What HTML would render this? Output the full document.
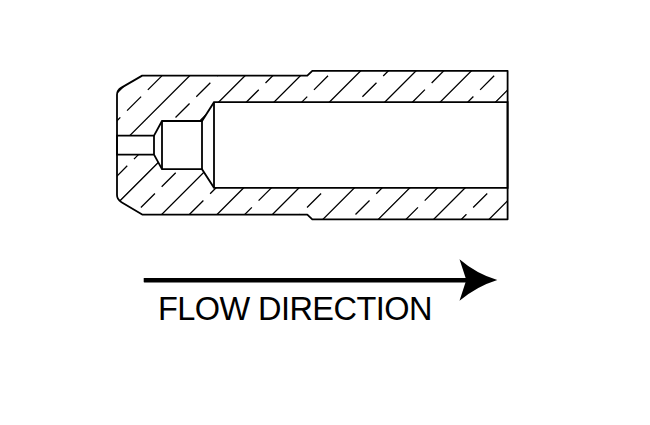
<!DOCTYPE html>
<html><head><meta charset="utf-8"><style>
html,body{margin:0;padding:0;background:#fff;width:650px;height:425px;overflow:hidden}
svg{position:absolute;left:0;top:0}
.t{position:absolute;left:0;top:0;font-family:"Liberation Sans",sans-serif;font-size:32.5px;letter-spacing:-0.55px;color:#000;white-space:nowrap;line-height:1}
</style></head><body>
<svg width="650" height="425" viewBox="0 0 650 425">
<defs><clipPath id="c"><path clip-rule="evenodd" d="M142.2 75.65 L307.3 75.65 L312.3 70.8 L507.6 70.8 L507.6 219.3 L312.3 219.3 L307.3 214.6 L142.2 214.6 L121.5 202.29999999999998 Q117 199.6 117 195.1 L117 94.7 Q117 90.2 121.5 87.60000000000001 Z M117 135.6 L154 135.6 L162 121 L202 121 L214 102.2 L507.6 102.2 L507.6 187.8 L214 187.8 L202 169.2 L162 169.2 L154 154.6 L117 154.6 Z"/></clipPath></defs>
<path d="M100.00 54.65L520.00 -365.35M100.00 110.02L520.00 -309.98M100.00 165.40L520.00 -254.60M100.00 220.77L520.00 -199.23M100.00 276.15L520.00 -143.85M100.00 331.52L520.00 -88.48M100.00 386.90L520.00 -33.10M100.00 442.27L520.00 22.27M100.00 497.65L520.00 77.65M100.00 553.02L520.00 133.02M100.00 608.40L520.00 188.40M99.37 82.97L113.42 68.92M120.14 62.20L134.19 48.15M140.91 41.43L154.96 27.38M161.68 20.66L175.73 6.61M182.45 -0.11L196.50 -14.16M203.22 -20.88L217.27 -34.93M223.99 -41.65L238.04 -55.70M244.76 -62.42L258.81 -76.47M265.53 -83.19L279.58 -97.24M286.30 -103.96L300.35 -118.01M307.07 -124.73L321.12 -138.78M327.84 -145.50L341.89 -159.55M348.61 -166.27L362.66 -180.32M369.38 -187.04L383.43 -201.09M390.15 -207.81L404.20 -221.86M410.92 -228.58L424.97 -242.63M431.69 -249.35L445.74 -263.40M452.46 -270.12L466.51 -284.17M473.23 -290.89L487.28 -304.94M494.00 -311.66L508.05 -325.71M514.77 -332.43L528.82 -346.48M106.29 131.43L120.34 117.38M127.06 110.66L141.11 96.61M147.83 89.89L161.88 75.84M168.60 69.12L182.65 55.07M189.37 48.35L203.42 34.30M210.14 27.58L224.19 13.53M230.91 6.81L244.96 -7.24M251.68 -13.96L265.73 -28.01M272.45 -34.73L286.50 -48.78M293.22 -55.50L307.27 -69.55M313.99 -76.27L328.04 -90.32M334.76 -97.04L348.81 -111.09M355.53 -117.81L369.58 -131.86M376.30 -138.58L390.35 -152.63M397.07 -159.35L411.12 -173.40M417.84 -180.12L431.89 -194.17M438.61 -200.89L452.66 -214.94M459.38 -221.66L473.43 -235.71M480.15 -242.43L494.20 -256.48M500.92 -263.20L514.97 -277.25M92.43 200.65L106.48 186.60M113.20 179.88L127.25 165.83M133.97 159.11L148.02 145.06M154.74 138.34L168.79 124.29M175.51 117.57L189.56 103.52M196.28 96.80L210.33 82.75M217.05 76.03L231.10 61.98M237.82 55.26L251.87 41.21M258.59 34.49L272.64 20.44M279.36 13.72L293.41 -0.33M300.13 -7.05L314.18 -21.10M320.90 -27.82L334.95 -41.87M341.67 -48.59L355.72 -62.64M362.44 -69.36L376.49 -83.41M383.21 -90.13L397.26 -104.18M403.98 -110.90L418.03 -124.95M424.75 -131.67L438.80 -145.72M445.52 -152.44L459.57 -166.49M466.29 -173.21L480.34 -187.26M487.06 -193.98L501.11 -208.03M507.83 -214.75L521.88 -228.80M99.35 249.11L113.40 235.06M120.12 228.34L134.17 214.29M140.89 207.57L154.94 193.52M161.66 186.80L175.71 172.75M182.43 166.03L196.48 151.98M203.20 145.26L217.25 131.21M223.97 124.49L238.02 110.44M244.74 103.72L258.79 89.67M265.51 82.95L279.56 68.90M286.28 62.18L300.33 48.13M307.05 41.41L321.10 27.36M327.82 20.64L341.87 6.59M348.59 -0.13L362.64 -14.18M369.36 -20.90L383.41 -34.95M390.13 -41.67L404.18 -55.72M410.90 -62.44L424.95 -76.49M431.67 -83.21L445.72 -97.26M452.44 -103.98L466.49 -118.03M473.21 -124.75L487.26 -138.80M493.98 -145.52L508.03 -159.57M514.75 -166.29L528.80 -180.34M106.27 297.57L120.32 283.52M127.04 276.80L141.09 262.75M147.81 256.03L161.86 241.98M168.58 235.26L182.63 221.21M189.35 214.49L203.40 200.44M210.12 193.72L224.17 179.67M230.89 172.95L244.94 158.90M251.66 152.18L265.71 138.13M272.43 131.41L286.48 117.36M293.20 110.64L307.25 96.59M313.97 89.87L328.02 75.82M334.74 69.10L348.79 55.05M355.51 48.33L369.56 34.28M376.28 27.56L390.33 13.51M397.05 6.79L411.10 -7.26M417.82 -13.98L431.87 -28.03M438.59 -34.75L452.64 -48.80M459.36 -55.52L473.41 -69.57M480.13 -76.29L494.18 -90.34M500.90 -97.06L514.95 -111.11M92.42 366.80L106.47 352.75M113.19 346.03L127.24 331.98M133.96 325.26L148.01 311.21M154.73 304.49L168.78 290.44M175.50 283.72L189.55 269.67M196.27 262.95L210.32 248.90M217.04 242.18L231.09 228.13M237.81 221.41L251.86 207.36M258.58 200.64L272.63 186.59M279.35 179.87L293.40 165.82M300.12 159.10L314.17 145.05M320.89 138.33L334.94 124.28M341.66 117.56L355.71 103.51M362.43 96.79L376.48 82.74M383.20 76.02L397.25 61.97M403.97 55.25L418.02 41.20M424.74 34.48L438.79 20.43M445.51 13.71L459.56 -0.34M466.28 -7.06L480.33 -21.11M487.05 -27.83L501.10 -41.88M507.82 -48.60L521.87 -62.65M99.33 415.25L113.38 401.20M120.10 394.48L134.15 380.43M140.87 373.71L154.92 359.66M161.64 352.94L175.69 338.89M182.41 332.17L196.46 318.12M203.18 311.40L217.23 297.35M223.95 290.63L238.00 276.58M244.72 269.86L258.77 255.81M265.49 249.09L279.54 235.04M286.26 228.32L300.31 214.27M307.03 207.55L321.08 193.50M327.80 186.78L341.85 172.73M348.57 166.01L362.62 151.96M369.34 145.24L383.39 131.19M390.11 124.47L404.16 110.42M410.88 103.70L424.93 89.65M431.65 82.93L445.70 68.88M452.42 62.16L466.47 48.11M473.19 41.39L487.24 27.34M493.96 20.62L508.01 6.57M514.73 -0.15L528.78 -14.20M106.25 463.71L120.30 449.66M127.02 442.94L141.07 428.89M147.79 422.17L161.84 408.12M168.56 401.40L182.61 387.35M189.33 380.63L203.38 366.58M210.10 359.86L224.15 345.81M230.87 339.09L244.92 325.04M251.64 318.32L265.69 304.27M272.41 297.55L286.46 283.50M293.18 276.78L307.23 262.73M313.95 256.01L328.00 241.96M334.72 235.24L348.77 221.19M355.49 214.47L369.54 200.42M376.26 193.70L390.31 179.65M397.03 172.93L411.08 158.88M417.80 152.16L431.85 138.11M438.57 131.39L452.62 117.34M459.34 110.62L473.39 96.57M480.11 89.85L494.16 75.80M500.88 69.08L514.93 55.03M92.40 532.94L106.45 518.89M113.17 512.17L127.22 498.12M133.94 491.40L147.99 477.35M154.71 470.63L168.76 456.58M175.48 449.86L189.53 435.81M196.25 429.09L210.30 415.04M217.02 408.32L231.07 394.27M237.79 387.55L251.84 373.50M258.56 366.78L272.61 352.73M279.33 346.01L293.38 331.96M300.10 325.24L314.15 311.19M320.87 304.47L334.92 290.42M341.64 283.70L355.69 269.65M362.41 262.93L376.46 248.88M383.18 242.16L397.23 228.11M403.95 221.39L418.00 207.34M424.72 200.62L438.77 186.57M445.49 179.85L459.54 165.80M466.26 159.08L480.31 145.03M487.03 138.31L501.08 124.26M507.80 117.54L521.85 103.49M99.32 581.40L113.37 567.35M120.09 560.63L134.14 546.58M140.86 539.86L154.91 525.81M161.63 519.09L175.68 505.04M182.40 498.32L196.45 484.27M203.17 477.55L217.22 463.50M223.94 456.78L237.99 442.73M244.71 436.01L258.76 421.96M265.48 415.24L279.53 401.19M286.25 394.47L300.30 380.42M307.02 373.70L321.07 359.65M327.79 352.93L341.84 338.88M348.56 332.16L362.61 318.11M369.33 311.39L383.38 297.34M390.10 290.62L404.15 276.57M410.87 269.85L424.92 255.80M431.64 249.08L445.69 235.03M452.41 228.31L466.46 214.26M473.18 207.54L487.23 193.49M493.95 186.77L508.00 172.72M514.72 166.00L528.77 151.95M106.23 629.85L120.28 615.80M127.00 609.08L141.05 595.03M147.77 588.31L161.82 574.26M168.54 567.54L182.59 553.49M189.31 546.77L203.36 532.72M210.08 526.00L224.13 511.95M230.85 505.23L244.90 491.18M251.62 484.46L265.67 470.41M272.39 463.69L286.44 449.64M293.16 442.92L307.21 428.87M313.93 422.15L327.98 408.10M334.70 401.38L348.75 387.33M355.47 380.61L369.52 366.56M376.24 359.84L390.29 345.79M397.01 339.07L411.06 325.02M417.78 318.30L431.83 304.25M438.55 297.53L452.60 283.48M459.32 276.76L473.37 262.71M480.09 255.99L494.14 241.94M500.86 235.22L514.91 221.17" stroke="#000" stroke-width="1.3" fill="none" clip-path="url(#c)"/>
<path d="M142.2 75.65 L307.3 75.65 L312.3 70.8 L507.6 70.8 L507.6 219.3 L312.3 219.3 L307.3 214.6 L142.2 214.6 L121.5 202.29999999999998 Q117 199.6 117 195.1 L117 94.7 Q117 90.2 121.5 87.60000000000001 Z" stroke="#000" stroke-width="1.8" fill="none" stroke-linejoin="round"/>
<path d="M117 135.6 L154 135.6 L162 121 L202 121 L214 102.2 L507.6 102.2 L507.6 187.8 L214 187.8 L202 169.2 L162 169.2 L154 154.6 L117 154.6 Z" stroke="#000" stroke-width="1.8" fill="none"/>
<path d="M154 135.6V154.6 M162 121V169.2 M202 121V169.2 M214 102.2V187.8" stroke="#000" stroke-width="1.8" fill="none"/>
<rect x="143.7" y="278" width="325" height="4.4" rx="0.6" fill="#000"/>
<path d="M459.5 259.2 Q476.2 273.6 497.3 280 Q476.2 286.6 459.5 300.8 L466.3 280 Z" fill="#000"/>
</svg>
<div class="t" id="txt" style="left:157.9px;top:293.1px">FLOW DIRECTION</div>
</body></html>
